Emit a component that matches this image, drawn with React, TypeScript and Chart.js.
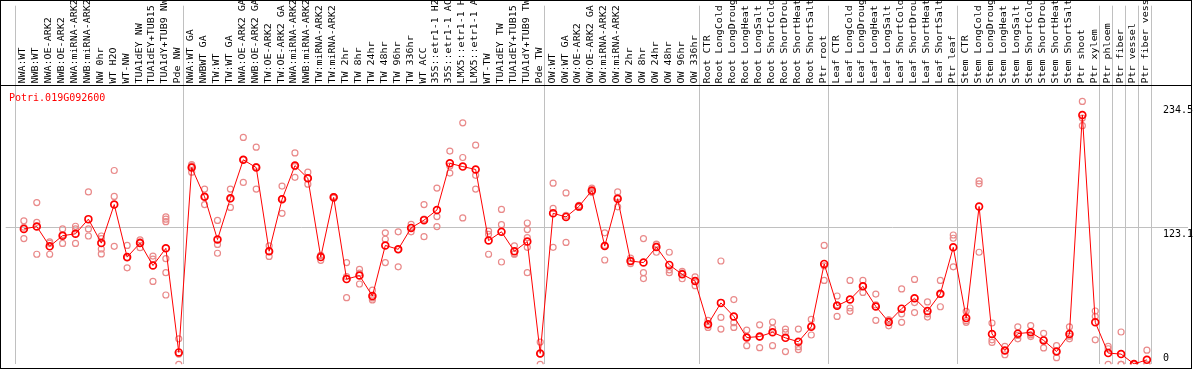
import React, { useEffect, useRef } from 'react';
import { Chart, registerables } from 'chart.js';

Chart.register(...registerables);

const title = 'Potri.019G092600';

const categories = [
  'NWA:WT', 'NWB:WT', 'NWA:OE-ARK2', 'NWB:OE-ARK2', 'NWA:miRNA-ARK2', 'NWB:miRNA-ARK2',
  'NW 0hr', 'WT H2O', 'WT-NW', 'TUA1dEY NW', 'TUA1dEY+TUB15 NW', 'TUA1dY+TUB9 NW', 'Pde NW',
  'NWA:WT GA', 'NWBWT GA', 'TW:WT', 'TW:WT GA', 'NWA:OE-ARK2 GA', 'NWB:OE-ARK2 GA',
  'TW:OE-ARK2', 'TW:OE-ARK2 GA', 'NWA:miRNA-ARK2 GA', 'NWB:miRNA-ARK2 GA', 'TW:miRNA-ARK2',
  'TW:miRNA-ARK2 GA', 'TW 2hr', 'TW 8hr', 'TW 24hr', 'TW 48hr', 'TW 96hr', 'TW 336hr',
  'WT ACC', '35S::etr1-1 H2O', '35S::etr1-1 ACC', 'LMX5::etr1-1 H2O', 'LMX5::etr1-1 ACC',
  'WT-TW', 'TUA1dEY TW', 'TUA1dEY+TUB15 TW', 'TUA1dY+TUB9 TW', 'Pde TW',
  'OW:WT', 'OW:WT GA', 'OW:OE-ARK2', 'OW:OE-ARK2 GA', 'OW:miRNA-ARK2', 'OW:miRNA-ARK2 GA',
  'OW 2hr', 'OW 8hr', 'OW 24hr', 'OW 48hr', 'OW 96hr', 'OW 336hr',
  'Root CTR', 'Root LongCold', 'Root LongDrought', 'Root LongHeat', 'Root LongSalt',
  'Root ShortCold', 'Root ShortDrought', 'Root ShortHeat', 'Root ShortSalt', 'Ptr root',
  'Leaf CTR', 'Leaf LongCold', 'Leaf LongDrought', 'Leaf LongHeat', 'Leaf LongSalt',
  'Leaf ShortCold', 'Leaf ShortDrought', 'Leaf ShortHeat', 'Leaf ShortSalt', 'Ptr leaf',
  'Stem CTR', 'Stem LongCold', 'Stem LongDrought', 'Stem LongHeat', 'Stem LongSalt',
  'Stem ShortCold', 'Stem ShortDrought', 'Stem ShortHeat', 'Stem ShortSalt', 'Ptr shoot',
  'Ptr xylem', 'Ptr phloem', 'Ptr fiber', 'Ptr vessel', 'Ptr fiber vessel',
];

const groupSizes = [13, 28, 12, 10, 10, 11, 1, 1, 1, 1];

const means = [
  121.9, 124.0, 106.2, 115.8, 117.5, 130.7, 109.1, 143.8, 96.5, 109.1, 88.9, 104.4, 10.7,
  177.1, 150.8, 112.3, 149.4, 184.1, 177.1, 101.8, 148.5, 178.9, 167.5, 96.5, 150.3, 76.7,
  79.9, 61.5, 107.0, 103.5, 122.8, 129.8, 138.9, 180.9, 178.0, 175.4, 111.4, 119.3, 101.8,
  110.5, 9.8,
  135.9, 132.7, 142.1, 156.4, 106.4, 149.1, 93.0, 91.6, 105.6, 89.5, 81.0, 74.9,
  36.1, 55.3, 43.1, 24.1, 25.0, 28.8, 23.8, 20.3, 33.7, 90.4,
  52.7, 58.3, 70.2, 52.1, 38.1, 50.1, 59.4, 48.0, 63.5, 105.3,
  41.6, 142.1, 27.3, 12.4, 27.6, 28.8, 21.5, 11.5, 27.3, 224.4, 37.8,
  10.1, 9.2, 0.3, 4.0,
];

const replicates = [
  [129.2, 123.4, 113.2], [145.6, 127.8, 99.1], [110.2, 109.0, 99.1], [121.9, 116.7, 108.8],
  [124.3, 121.9, 108.8], [155.2, 121.9, 115.5], [115.5, 113.2, 103.8, 99.4], [174.5, 151.1, 106.2],
  [107.0, 95.6, 86.9], [112.0, 110.2, 105.0], [97.4, 94.7, 74.6],
  [132.7, 130.7, 128.4, 95.1, 82.5, 62.4], [22.9, 9.2, 0],
  [179.8, 178.6, 173.0], [157.8, 150.8, 143.8], [129.5, 107.9, 100.0], [157.8, 149.0, 141.2],
  [204.3, 184.3, 163.7], [195.5, 178.0, 157.8], [106.7, 101.6, 97.1], [160.5, 149.0, 135.9],
  [190.3, 178.0, 168.3], [173.0, 167.3, 162.2], [98.0, 97.9, 93.6], [151.0, 150.3, 149.6],
  [91.6, 79.0, 60.0], [85.4, 82.0, 72.3], [66.7, 59.8, 58.0], [118.4, 112.6, 91.6],
  [119.3, 103.5, 87.8], [126.0, 123.0, 119.3], [143.8, 130.7, 114.9], [158.7, 133.0, 124.0],
  [192.0, 178.5, 172.2], [217.4, 186.2, 131.8], [197.3, 170.1, 157.8], [119.9, 117.0, 99.1],
  [139.4, 125.7, 92.1], [106.7, 99.6, 99.1], [127.2, 121.3, 114.0, 105.3, 82.5], [20.0, 9.4, 0],
  [163.1, 140.3, 105.3], [154.3, 134.0, 109.7], [143.0, 142.1, 141.2], [158.7, 155.5, 155.0],
  [118.4, 107.0, 93.9], [155.2, 150.3, 141.8], [95.6, 92.7, 90.7], [113.2, 82.5, 77.2],
  [108.2, 107.7, 100.9], [100.9, 85.1, 82.5], [83.7, 82.3, 77.0], [78.7, 75.2, 70.8],
  [39.6, 35.5, 33.2], [93.0, 42.2, 31.7], [58.3, 37.5, 33.2], [30.8, 24.7, 16.8],
  [35.5, 24.5, 15.0], [38.1, 32.3, 16.8], [31.7, 28.8, 11.5], [31.7, 15.9, 13.3],
  [40.4, 34.3, 26.4], [107.0, 88.7, 75.5],
  [61.5, 53.5, 43.1], [75.5, 50.7, 47.7], [75.5, 70.4, 64.7], [63.2, 53.5, 39.6],
  [40.0, 39.7, 34.6], [67.9, 45.4, 37.8], [76.4, 55.6, 46.6], [56.2, 45.4, 42.5],
  [75.5, 63.0, 51.8], [116.4, 113.5, 87.8],
  [47.7, 39.3, 37.8], [165.1, 162.5, 100.9], [37.2, 22.0, 19.7], [16.2, 12.4, 8.6],
  [33.7, 26.0, 22.9], [34.9, 26.5, 25.0], [27.9, 21.9, 14.7], [16.8, 11.7, 6.0],
  [33.7, 25.3, 22.9], [236.7, 221.7, 214.8], [48.0, 43.1, 22.0],
  [16.2, 14.0, 0], [29.1, 0, 0], [0, 0, 0], [12.7, 0, 0],
];

const yTickValues = [0, 123.1, 234.5];
const yTickLabels = ['0', '123.1', '234.5'];

export default function App() {
  const ref = useRef<HTMLCanvasElement>(null);

  useEffect(() => {
    const canvas = ref.current;
    if (!canvas) return;

    const X_MIN = -1.4077;
    const X_MAX = 90.2077;
    const Y_MAX = 322.85;
    const firstEdge = -0.638;
    const edges: number[] = [firstEdge];
    let acc = firstEdge;
    groupSizes.forEach((n) => {
      acc += n;
      edges.push(acc);
    });

    const meanPts = means.map((v, i) => ({ x: i, y: v }));
    const repPts = replicates.flatMap((arr, i) => arr.map((v) => ({ x: i, y: v })));
    const mono = '"DejaVu Sans Mono", "Liberation Mono", monospace';

    const overlay = {
      id: 'efpOverlay',
      afterDraw(chart: any) {
        const ctx: CanvasRenderingContext2D = chart.ctx;
        const xs = chart.scales.x;
        const ys = chart.scales.y;
        ctx.save();

        // header labels
        ctx.fillStyle = '#000';
        ctx.font = '8px ' + mono;
        ctx.textAlign = 'left';
        ctx.textBaseline = 'alphabetic';
        categories.forEach((label, i) => {
          const px = xs.getPixelForValue(i);
          ctx.save();
          ctx.translate(px + 1.5, 83.5);
          ctx.rotate(-Math.PI / 2);
          ctx.scale(1.25, 1);
          ctx.fillText(label, 0, 0);
          ctx.restore();
        });

        // header separator + frame
        ctx.strokeStyle = '#000';
        ctx.lineWidth = 1;
        ctx.beginPath();
        ctx.moveTo(0, 85.5);
        ctx.lineTo(1192, 85.5);
        ctx.stroke();
        ctx.strokeRect(0.5, 0.5, 1191, 368);

        // title
        ctx.fillStyle = '#ff0000';
        ctx.font = '10px ' + mono;
        ctx.fillText(title, 9, 100.5);

        // y labels
        yTickValues.forEach((v, k) => {
          const py = ys.getPixelForValue(v);
          const base = v === 0 ? py - 3 : py + 9.5;
          ctx.fillStyle = '#fff';
          ctx.fillRect(1160, base - 9, 31, 11);
          ctx.fillStyle = '#000';
          ctx.fillText(yTickLabels[k], 1163, base);
        });

        ctx.restore();
      },
    };

    const chart = new Chart(canvas, {
      type: 'line',
      data: {
        datasets: [
          {
            label: 'mean',
            data: meanPts,
            borderColor: '#ff0000',
            borderWidth: 1,
            pointRadius: 3.4,
            pointBorderWidth: 1.7,
            pointBorderColor: '#ff0000',
            pointBackgroundColor: 'rgba(0,0,0,0)',
            tension: 0,
            order: 0,
          },
          {
            label: 'replicates',
            data: repPts,
            showLine: false,
            pointRadius: 3,
            pointBorderWidth: 1.2,
            pointBorderColor: '#e98a8a',
            pointBackgroundColor: 'rgba(0,0,0,0)',
            order: 1,
          },
        ],
      },
      options: {
        animation: false,
        responsive: false,
        devicePixelRatio: 1,
        events: [],
        layout: { padding: { left: 1, right: 2, top: 0, bottom: 1.5 } },
        plugins: { legend: { display: false }, tooltip: { enabled: false } },
        scales: {
          x: {
            type: 'linear',
            min: X_MIN,
            max: X_MAX,
            afterBuildTicks: (s: any) => {
              s.ticks = edges.map((v) => ({ value: v }));
            },
            afterFit: (s: any) => {
              s.height = 0;
            },
            ticks: { display: false },
            grid: { color: '#c0c0c0', lineWidth: 1, drawTicks: false },
            border: { display: false },
          },
          y: {
            type: 'linear',
            position: 'right',
            min: 0,
            max: Y_MAX,
            afterBuildTicks: (s: any) => {
              s.ticks = yTickValues.map((v) => ({ value: v }));
            },
            afterFit: (s: any) => {
              s.width = 0;
            },
            ticks: { display: false },
            grid: {
              color: (c: any) => (c.tick && c.tick.value === 123.1 ? '#c0c0c0' : 'rgba(0,0,0,0)'),
              lineWidth: 1,
              drawTicks: false,
            },
            border: { display: false },
          },
        },
      },
      plugins: [overlay],
    });

    return () => chart.destroy();
  }, []);

  return (
    <div style={{ position: 'fixed', left: 0, top: 0, width: 1194, height: 370, background: '#fff' }}>
      <canvas ref={ref} width={1194} height={370} style={{ display: 'block' }} />
    </div>
  );
}
